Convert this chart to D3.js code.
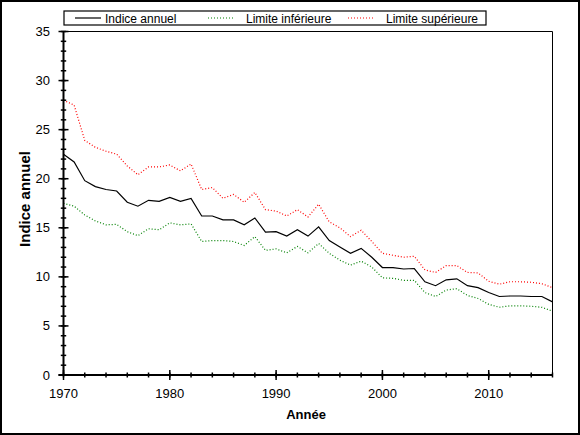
<!DOCTYPE html>
<html>
<head>
<meta charset="utf-8">
<script src="https://cdn.jsdelivr.net/npm/d3@7"></script>
<style>
  body { margin: 0; background: #fff; }
  svg { display: block; font-family: "Liberation Sans", Arial, sans-serif; }
</style>
</head>
<body>
<svg id="chart" width="580" height="435"></svg>
<script>
// données
var years = d3.range(1970, 2017);
var indice = [22.5, 21.7, 19.8, 19.2, 18.9, 18.75, 17.6, 17.2, 17.8, 17.7,
              18.1, 17.7, 18.0, 16.2, 16.2, 15.8, 15.8, 15.3, 16.0, 14.55,
              14.6, 14.15, 14.8, 14.15, 15.1, 13.7, 13.05, 12.4, 12.9, 12.0,
              10.95, 10.95, 10.8, 10.85, 9.5, 9.1, 9.7, 9.8, 9.1, 8.9,
              8.4, 8.0, 8.05, 8.05, 8.0, 8.0, 7.45];
var limInf = [17.5, 17.2, 16.3, 15.7, 15.3, 15.35, 14.6, 14.2, 14.9, 14.8,
              15.5, 15.3, 15.4, 13.6, 13.7, 13.7, 13.6, 13.2, 14.1, 12.7,
              12.85, 12.45, 13.1, 12.45, 13.4, 12.4, 11.7, 11.2, 11.6, 11.0,
              9.9, 9.85, 9.65, 9.65, 8.4, 8.0, 8.65, 8.8, 8.1, 7.8,
              7.2, 6.9, 7.05, 7.05, 7.0, 6.9, 6.5];
var limSup = [28.0, 27.5, 23.9, 23.2, 22.8, 22.5, 21.3, 20.4, 21.2, 21.2,
              21.4, 20.8, 21.5, 18.9, 19.1, 18.0, 18.4, 17.6, 18.6, 16.85,
              16.7, 16.2, 16.85, 16.1, 17.4, 15.6, 15.0, 14.1, 14.75, 13.6,
              12.4, 12.2, 12.0, 12.1, 10.7, 10.45, 11.15, 11.15, 10.45, 10.4,
              9.55, 9.25, 9.5, 9.5, 9.45, 9.3, 8.9];
var xTicks = [1970, 1980, 1990, 2000, 2010];
var yTicks = [0, 5, 10, 15, 20, 25, 30, 35];

var series = [
  { nom: "Indice annuel", valeurs: indice, couleur: "#000000", tirets: null },
  { nom: "Limite inférieure", valeurs: limInf, couleur: "#008000", tirets: "1,2" },
  { nom: "Limite supérieure", valeurs: limSup, couleur: "#ff0000", tirets: "1,2" }
];

var svg = d3.select("#chart");
var plotLeft = 63.5, plotRight = 552.5, plotTop = 31.5, plotBottom = 375;

var x = d3.scaleLinear().domain([1970, 2016]).range([plotLeft, plotRight]);
var y = d3.scaleLinear().domain([0, 35]).range([plotBottom, plotTop]);

// cadre extérieur
svg.append("rect")
    .attr("x", 1).attr("y", 1)
    .attr("width", 578).attr("height", 433)
    .attr("fill", "none").attr("stroke", "#000").attr("stroke-width", 2);

// cadre du graphique (haut et droite)
svg.append("path")
    .attr("d", "M" + plotLeft + "," + plotTop + "H" + plotRight + "V" + plotBottom)
    .attr("fill", "none").attr("stroke", "#000").attr("stroke-width", 1);

// courbes
var line = d3.line()
    .x(function(d, i) { return x(years[i]); })
    .y(function(d) { return y(d); });

series.slice().reverse().forEach(function(s) {
  svg.append("path")
      .datum(s.valeurs)
      .attr("d", line)
      .attr("fill", "none")
      .attr("stroke", s.couleur)
      .attr("stroke-width", 1.2)
      .attr("stroke-dasharray", s.tirets);
});

// axe x : petites graduations tous les 2 ans, grandes tous les 10 ans
var xAxis = svg.append("g").attr("class", "x-axis");
xAxis.append("line")
    .attr("x1", plotLeft - 5).attr("x2", plotRight)
    .attr("y1", plotBottom).attr("y2", plotBottom)
    .attr("stroke", "#000").attr("stroke-width", 2);
xAxis.selectAll(".minor")
    .data(d3.range(1970, 2017, 2))
    .enter().append("line")
    .attr("class", "minor")
    .attr("x1", function(d) { return x(d); }).attr("x2", function(d) { return x(d); })
    .attr("y1", plotBottom - 2.5).attr("y2", plotBottom + 2.5)
    .attr("stroke", "#000").attr("stroke-width", 1.5);
xAxis.selectAll(".major")
    .data(xTicks)
    .enter().append("line")
    .attr("class", "major")
    .attr("x1", function(d) { return x(d); }).attr("x2", function(d) { return x(d); })
    .attr("y1", plotBottom - 5).attr("y2", plotBottom + 5)
    .attr("stroke", "#000").attr("stroke-width", 1.5);
xAxis.selectAll(".label")
    .data(xTicks)
    .enter().append("text")
    .attr("class", "label")
    .attr("x", function(d) { return x(d); })
    .attr("y", 398)
    .attr("text-anchor", "middle")
    .style("font-size", "13px")
    .text(function(d) { return d; });

// axe y : petites graduations chaque unité, grandes toutes les 5
var yAxis = svg.append("g").attr("class", "y-axis");
yAxis.append("line")
    .attr("x1", plotLeft).attr("x2", plotLeft)
    .attr("y1", plotTop).attr("y2", plotBottom)
    .attr("stroke", "#000").attr("stroke-width", 2);
yAxis.selectAll(".minor")
    .data(d3.range(0, 36))
    .enter().append("line")
    .attr("class", "minor")
    .attr("x1", plotLeft - 2.7).attr("x2", plotLeft + 2.7)
    .attr("y1", function(d) { return y(d); }).attr("y2", function(d) { return y(d); })
    .attr("stroke", "#000").attr("stroke-width", 1.5);
yAxis.selectAll(".major")
    .data(yTicks)
    .enter().append("line")
    .attr("class", "major")
    .attr("x1", plotLeft - 5).attr("x2", plotLeft + 5)
    .attr("y1", function(d) { return y(d); }).attr("y2", function(d) { return y(d); })
    .attr("stroke", "#000").attr("stroke-width", 1.5);
yAxis.selectAll(".label")
    .data(yTicks)
    .enter().append("text")
    .attr("class", "label")
    .attr("x", 50)
    .attr("y", function(d) { return y(d); })
    .attr("dy", "0.35em")
    .attr("text-anchor", "end")
    .style("font-size", "13px")
    .text(function(d) { return d; });

// titres des axes
svg.append("text")
    .attr("x", 306).attr("y", 419)
    .attr("text-anchor", "middle")
    .style("font-size", "13px").style("font-weight", "bold")
    .text("Année");
svg.append("text")
    .attr("transform", "translate(30,199) rotate(-90)")
    .attr("text-anchor", "middle")
    .style("font-size", "15px").style("font-weight", "bold")
    .text("Indice annuel");

// légende
var legend = svg.append("g");
legend.append("rect")
    .attr("x", 64).attr("y", 11)
    .attr("width", 422).attr("height", 14)
    .attr("fill", "#fff").attr("stroke", "#000").attr("stroke-width", 1.2);
var legendX = [75, 208, 348];
series.forEach(function(s, i) {
  legend.append("line")
      .attr("x1", legendX[i]).attr("x2", legendX[i] + 26)
      .attr("y1", 18).attr("y2", 18)
      .attr("stroke", s.couleur).attr("stroke-width", 1.2)
      .attr("stroke-dasharray", s.tirets);
  legend.append("text")
      .attr("x", legendX[i] + (i === 0 ? 30 : 38))
      .attr("y", 22.5)
      .style("font-size", "12px")
      .text(s.nom);
});
</script>
</body>
</html>
